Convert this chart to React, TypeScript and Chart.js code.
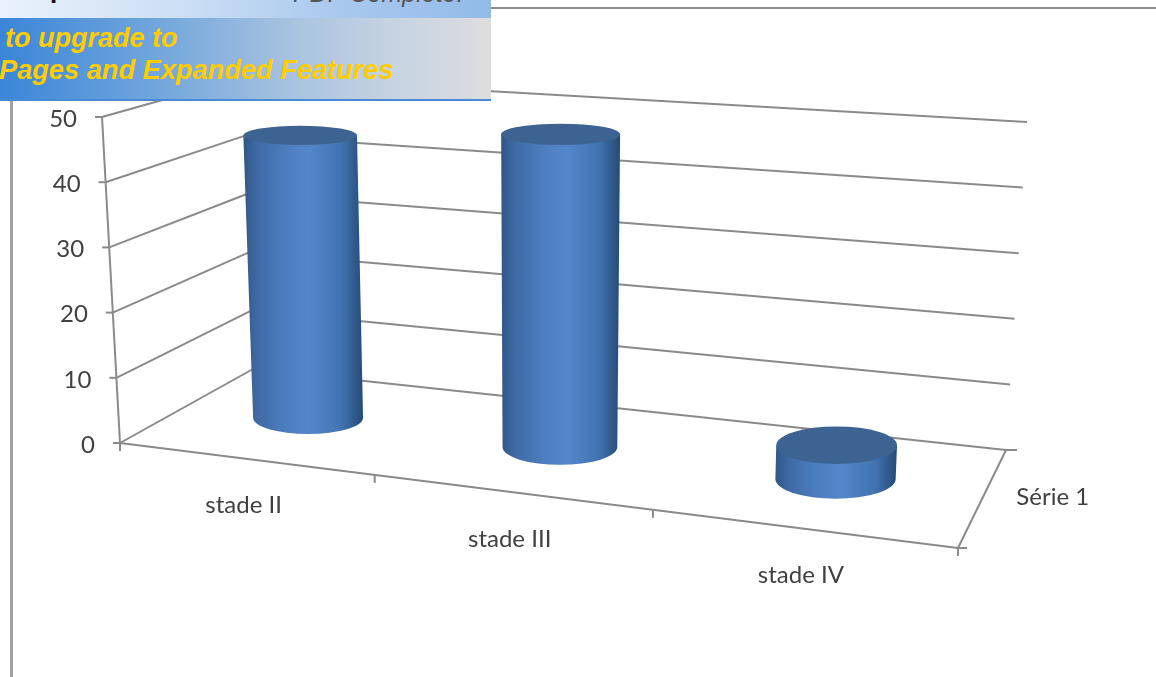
import React, { useEffect, useRef } from "react";
import { Chart, registerables } from "chart.js";

Chart.register(...registerables);

// Chart content
const categories = ["stade II", "stade III", "stade IV"];
const seriesName = "Série 1";
const seriesValues = [45, 48, 5];
const axisMax = 50;
const axisStep = 10;

// Corners of the 3D plot box, on screen: front/back, floor/ceiling, left/right
const BOX = {
  f0l: [120, 443], f0r: [958, 548], b0l: [253, 369], b0r: [1006, 450],
  f1l: [102, 117], f1r: [970, 182], b1l: [244, 77], b1r: [1027, 122],
};
const PERSPECTIVE_X = 1.145;
const PERSPECTIVE_Z = 1.116;
const GRID = "#8a8a8a";
const TEXT = "#404040";
const FONT = "24px Lato";

const warpX = (u: number) => u / (u + (1 - u) * PERSPECTIVE_X);
const warpZ = (z: number) => (z * PERSPECTIVE_Z) / (z * PERSPECTIVE_Z + (1 - z));
const mix = (a: number[], b: number[], k: number) => [a[0] + (b[0] - a[0]) * k, a[1] + (b[1] - a[1]) * k];

// Maps box coordinates (across, height, depth), each 0..1, to canvas pixels
function project(u: number, t: number, z: number) {
  const U = warpX(u);
  const Z = warpZ(z);
  const floor = mix(mix(BOX.f0l, BOX.f0r, U), mix(BOX.b0l, BOX.b0r, U), Z);
  const ceil = mix(mix(BOX.f1l, BOX.f1r, U), mix(BOX.b1l, BOX.b1r, U), Z);
  return mix(floor, ceil, t);
}

function segment(ctx: CanvasRenderingContext2D, a: number[], b: number[]) {
  ctx.beginPath();
  ctx.moveTo(a[0], a[1]);
  ctx.lineTo(b[0], b[1]);
  ctx.stroke();
}

const DEPTH_RADIUS = 0.21;

function drawCylinder(ctx: CanvasRenderingContext2D, u: number, halfU: number, t0: number, t1: number) {
  const disc = (t: number) => {
    const c = project(u, t, 0.5);
    const l = project(u - halfU, t, 0.5);
    const r = project(u + halfU, t, 0.5);
    const near = project(u, t, 0.5 - DEPTH_RADIUS);
    const far = project(u, t, 0.5 + DEPTH_RADIUS);
    // Radius eases the foreshortening across the width of the plot
    const even = halfU * (project(1, t, 0.5)[0] - project(0, t, 0.5)[0]);
    return { x: c[0], y: c[1], rx: ((r[0] - l[0]) / 2 + even) / 2, ry: Math.abs(near[1] - far[1]) / 2 };
  };
  const bottom = disc(t0);
  const top = disc(t1);
  const left = Math.min(bottom.x - bottom.rx, top.x - top.rx);
  const right = Math.max(bottom.x + bottom.rx, top.x + top.rx);
  const shade = ctx.createLinearGradient(left, 0, right, 0);
  shade.addColorStop(0, "#2f5687");
  shade.addColorStop(0.12, "#3f6ba6");
  shade.addColorStop(0.35, "#4c7ebf");
  shade.addColorStop(0.55, "#5487ca");
  shade.addColorStop(0.82, "#4273b0");
  shade.addColorStop(1, "#264a75");

  ctx.beginPath();
  ctx.moveTo(top.x - top.rx, top.y);
  ctx.lineTo(bottom.x - bottom.rx, bottom.y);
  ctx.ellipse(bottom.x, bottom.y, bottom.rx, bottom.ry, 0, Math.PI, 0, true);
  ctx.lineTo(top.x + top.rx, top.y);
  ctx.closePath();
  ctx.fillStyle = shade;
  ctx.fill();

  ctx.beginPath();
  ctx.ellipse(top.x, top.y, top.rx, top.ry, 0, 0, Math.PI * 2);
  ctx.fillStyle = "#3c6391";
  ctx.fill();
}

// Draws the perspective box and cylinders from the chart's own scales and bar elements
const box3d = {
  id: "box3d",
  afterDatasetsDraw(chart: any) {
    const { ctx, chartArea: area, scales } = chart;
    const yScale = scales.y;
    const xScale = scales.x;
    const toU = (px: number) => (px - area.left) / area.width;
    const toT = (px: number) => (area.bottom - px) / area.height;

    ctx.save();
    ctx.strokeStyle = GRID;
    ctx.lineWidth = 2;
    ctx.lineCap = "butt";

    // Walls and value axis
    const yTicks = yScale.ticks.map((tk: any) => tk.value);
    ctx.font = FONT;
    ctx.fillStyle = TEXT;
    ctx.textBaseline = "middle";
    for (const value of yTicks) {
      const t = toT(yScale.getPixelForValue(value));
      const front = project(0, t, 0);
      segment(ctx, front, project(0, t, 1));
      segment(ctx, project(0, t, 1), project(1, t, 1));
      segment(ctx, [front[0] - 7, front[1]], front);
      ctx.textAlign = "right";
      ctx.fillText(String(value), front[0] - 25, front[1] + 2);
    }
    segment(ctx, project(0, 0, 0), project(0, 1, 0));

    // Floor edges with their tick marks
    segment(ctx, project(0, 0, 0), project(1, 0, 0));
    segment(ctx, project(1, 0, 0), project(1, 0, 1));
    for (let i = 0; i <= categories.length; i++) {
      const p = project(i / categories.length, 0, 0);
      segment(ctx, p, [p[0], p[1] + 8]);
    }
    const frontEnd = project(1, 0, 0);
    const backEnd = project(1, 0, 1);
    segment(ctx, frontEnd, [frontEnd[0] + 9, frontEnd[1]]);
    segment(ctx, backEnd, [backEnd[0] + 11, backEnd[1]]);

    // Cylinders, one per bar element
    const bars = chart.getDatasetMeta(0).data;
    bars.forEach((bar: any) => {
      const halfU = bar.width / 2 / area.width;
      drawCylinder(ctx, toU(bar.x), halfU, toT(bar.base), toT(bar.y));
    });

    // Category and series labels
    ctx.fillStyle = TEXT;
    ctx.textAlign = "center";
    categories.forEach((label, i) => {
      const p = project(toU(xScale.getPixelForValue(i)), 0, 0);
      ctx.fillText(label, p[0] - 1, p[1] + 47);
    });
    const mid = project(1, 0, 0.5);
    ctx.textAlign = "left";
    ctx.fillText(chart.data.datasets[0].label, mid[0] + 33, mid[1] + 1);
    ctx.restore();
  },
};

const clipped: React.CSSProperties = { position: "absolute", whiteSpace: "nowrap", fontFamily: "'Liberation Sans'" };

export default function App() {
  const canvasRef = useRef<HTMLCanvasElement>(null);

  useEffect(() => {
    const chart = new Chart(canvasRef.current!, {
      type: "bar",
      data: {
        labels: categories,
        datasets: [
          {
            label: seriesName,
            data: seriesValues,
            backgroundColor: "rgba(0,0,0,0)",
            barPercentage: 0.435,
            categoryPercentage: 1,
          },
        ],
      },
      options: {
        responsive: false,
        animation: false,
        layout: { padding: 0 },
        plugins: { legend: { display: false }, tooltip: { enabled: false } },
        scales: {
          x: { display: false },
          y: { display: false, min: 0, max: axisMax, ticks: { stepSize: axisStep } },
        },
      },
      plugins: [box3d],
    });
    return () => chart.destroy();
  }, []);

  return (
    <div style={{ position: "fixed", inset: 0, background: "#fff", overflow: "hidden" }}>
      <canvas ref={canvasRef} width={1156} height={677} style={{ position: "absolute", left: 0, top: 0 }} />

      {/* Page rules around the figure */}
      <div style={{ position: "absolute", left: 491, right: 0, top: 7, height: 2, background: "#8c8c8c" }} />
      <div style={{ position: "absolute", left: 10, top: 100, bottom: 0, width: 3, background: "#a0a0a0" }} />

      {/* Banner across the top-left corner */}
      <div style={{ position: "absolute", left: 0, top: 0, width: 491, height: 102, overflow: "hidden" }}>
        <div
          style={{
            position: "absolute", left: 0, top: 0, width: 491, height: 18,
            background: "linear-gradient(90deg,#eaf2fb 0%,#c9ddf4 40%,#a8c8ee 70%,#93bbe8 100%)",
          }}
        />
        <div
          style={{
            position: "absolute", left: 0, top: 18, width: 491, height: 82,
            background: "linear-gradient(90deg,#3b86d8 0%,#6ea4dc 30%,#a9c3e0 60%,#c6d3e2 80%,#dddddd 100%)",
          }}
        />
        <div style={{ position: "absolute", left: 0, top: 99, width: 491, height: 2, background: "#4a8ad4" }} />
        <span style={{ ...clipped, left: 50, top: -26, fontSize: 26, fontWeight: 700, color: "#111" }}>p</span>
        <span style={{ ...clipped, left: 293, top: -21, fontSize: 25, fontStyle: "italic", color: "#555" }}>PDF Complete.</span>
        <span style={{ ...clipped, left: 5, top: 23, fontSize: 27, fontStyle: "italic", fontWeight: 700, color: "#ffcc00" }}>to upgrade to</span>
        <span style={{ ...clipped, left: -1, top: 54, fontSize: 27.2, fontStyle: "italic", fontWeight: 700, color: "#ffcc00" }}>Pages and Expanded Features</span>
      </div>
    </div>
  );
}
